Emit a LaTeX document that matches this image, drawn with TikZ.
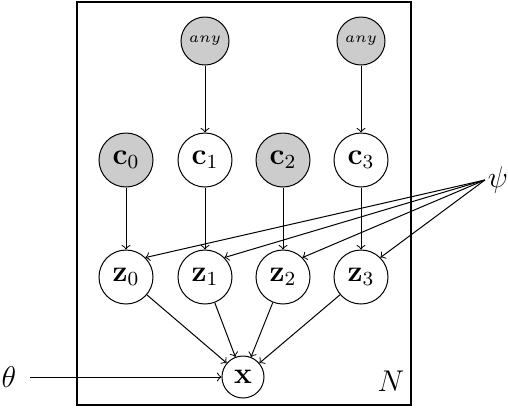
\documentclass[tikz,border=0pt]{standalone}
\begin{document}
\begin{tikzpicture}[x=0.4pt,y=-0.4pt,
  latent/.style={circle,draw,minimum size=21.6pt,inner sep=0pt,fill=white,font=\large},
  obs/.style={latent,fill=gray!40},
  anynode/.style={circle,draw,minimum size=19.2pt,inner sep=0pt,fill=gray!40,font=\fontsize{6.4}{7}\selectfont},
  xnode/.style={circle,draw,minimum size=16.8pt,inner sep=0pt,fill=white,font=\large},
  lbl/.style={font=\large,inner sep=1pt},
  edge/.style={->},
  plate/.style={draw,line width=0.6pt}]
\useasboundingbox (0,0) rectangle (508,408);
\draw[plate] (77,2) rectangle (411,405);
\node[lbl] (N) at (391,381) {$N$};
% any nodes
\node[anynode] (a1) at (205,41) {$any$};
\node[anynode] (a3) at (361,41) {$any$};
% c nodes
\node[obs] (c0) at (126,160) {$\mathbf{c}_0$};
\node[latent] (c1) at (205,160) {$\mathbf{c}_1$};
\node[obs] (c2) at (283,160) {$\mathbf{c}_2$};
\node[latent] (c3) at (361,160) {$\mathbf{c}_3$};
% z nodes
\node[latent] (z0) at (126,277) {$\mathbf{z}_0$};
\node[latent] (z1) at (205,277) {$\mathbf{z}_1$};
\node[latent] (z2) at (283,277) {$\mathbf{z}_2$};
\node[latent] (z3) at (361,277) {$\mathbf{z}_3$};
% x node
\node[xnode] (x) at (243,377) {$\mathbf{x}$};
% parameters
\node[lbl] (psi) at (498,180) {$\psi$};
\node[lbl] (theta) at (9,377) {$\theta$};
% edges
\draw[edge] (a1) -- (c1);
\draw[edge] (a3) -- (c3);
\draw[edge] (c0) -- (z0);
\draw[edge] (c1) -- (z1);
\draw[edge] (c2) -- (z2);
\draw[edge] (c3) -- (z3);
\foreach \i in {0,1,2,3}{
  \draw[edge] (psi.west) -- (z\i.45);
  \draw[edge] (z\i) -- (x);
}
\draw[edge,shorten <=4.4pt] (theta) -- (x);
\end{tikzpicture}
\end{document}
